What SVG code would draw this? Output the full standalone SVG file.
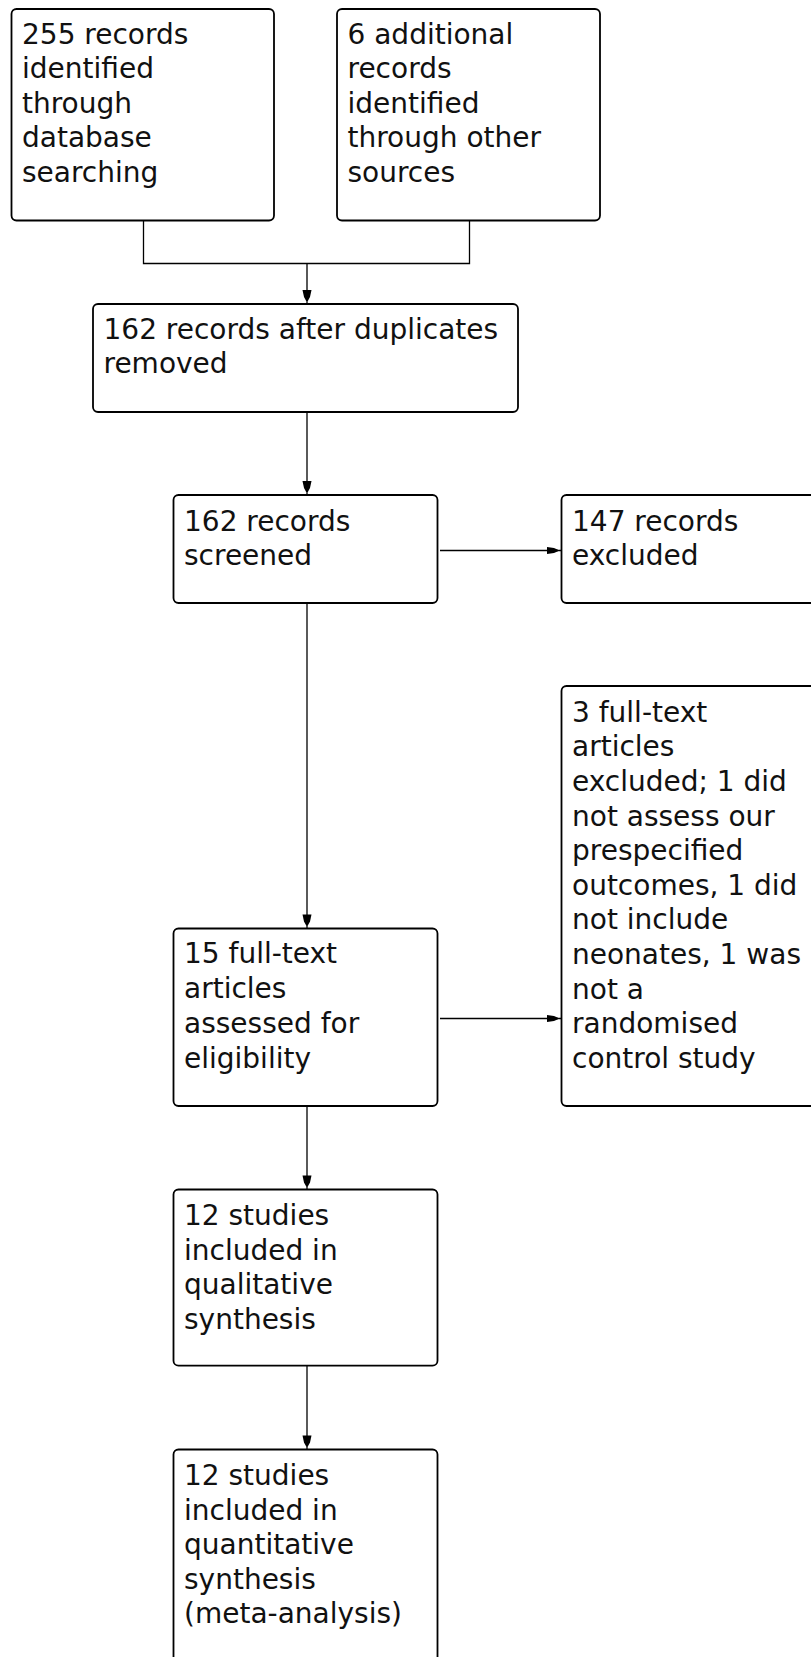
<svg xmlns="http://www.w3.org/2000/svg" width="811" height="1657" viewBox="0 0 811 1657">
<style>
.box{fill:#fff;stroke:#000;stroke-width:1.8}
.lbl{font-family:"DejaVu Sans",sans-serif;font-size:28px;fill:#111}
.con{fill:none;stroke:#000;stroke-width:1.3}
.ah{fill:#000}
</style>
<defs>
<polygon id="ahd" class="ah" points="-4.5,-14 4.5,-14 3,-7 0.8,-3 -0.8,-3 -3,-7"/>
<polygon id="ahr" class="ah" points="-14,-3.5 -14,3.5 -7,2.5 -3,0.8 -3,-0.8 -7,-2.5"/>
</defs>
<rect width="811" height="1657" fill="#fff"/>
<g id="connectors">
<path class="con" d="M143.5,220.5 V263.5 H469.5 V220.5 M307,263.5 V304"/>
<use href="#ahd" x="307" y="304"/>
<path class="con" d="M307,412 V495"/>
<use href="#ahd" x="307" y="495"/>
<path class="con" d="M440,550.5 H561"/>
<use href="#ahr" x="561" y="550.5"/>
<path class="con" d="M307,603 V928.5"/>
<use href="#ahd" x="307" y="928.5"/>
<path class="con" d="M440,1018.5 H561"/>
<use href="#ahr" x="561" y="1018.5"/>
<path class="con" d="M307,1106 V1189.5"/>
<use href="#ahd" x="307" y="1189.5"/>
<path class="con" d="M307,1365.7 V1449.5"/>
<use href="#ahd" x="307" y="1449.5"/>
</g>
<g id="n1">
<rect class="box" x="11.5" y="9" width="262.5" height="211.5" rx="5"/>
<text class="lbl" x="22" y="43.5"><tspan x="22">255 records</tspan><tspan x="22" dy="34.6">identified</tspan><tspan x="22" dy="34.6">through</tspan><tspan x="22" dy="34.6">database</tspan><tspan x="22" dy="34.6">searching</tspan></text>
</g>
<g id="n2">
<rect class="box" x="337" y="9" width="263" height="211.5" rx="5"/>
<text class="lbl" x="347.5" y="43.5"><tspan x="347.5">6 additional</tspan><tspan x="347.5" dy="34.6">records</tspan><tspan x="347.5" dy="34.6">identified</tspan><tspan x="347.5" dy="34.6">through other</tspan><tspan x="347.5" dy="34.6">sources</tspan></text>
</g>
<g id="n3">
<rect class="box" x="93" y="304" width="425" height="108" rx="5"/>
<text class="lbl" x="103.5" y="339.3"><tspan x="103.5">162 records after duplicates</tspan><tspan x="103.5" dy="34">removed</tspan></text>
</g>
<g id="n4">
<rect class="box" x="173.5" y="495" width="264" height="108" rx="5"/>
<text class="lbl" x="184" y="531"><tspan x="184">162 records</tspan><tspan x="184" dy="34">screened</tspan></text>
</g>
<g id="n5">
<rect class="box" x="561.5" y="495" width="300" height="108" rx="5"/>
<text class="lbl" x="572" y="531"><tspan x="572">147 records</tspan><tspan x="572" dy="34">excluded</tspan></text>
</g>
<g id="n6">
<rect class="box" x="561.5" y="686" width="300" height="420" rx="5"/>
<text class="lbl" x="572" y="721.7"><tspan x="572">3 full-text</tspan><tspan x="572" dy="34.6">articles</tspan><tspan x="572" dy="34.6">excluded; 1 did</tspan><tspan x="572" dy="34.6">not assess our</tspan><tspan x="572" dy="34.6">prespecified</tspan><tspan x="572" dy="34.6">outcomes, 1 did</tspan><tspan x="572" dy="34.6">not include</tspan><tspan x="572" dy="34.6">neonates, 1 was</tspan><tspan x="572" dy="34.6">not a</tspan><tspan x="572" dy="34.6">randomised</tspan><tspan x="572" dy="34.6">control study</tspan></text>
</g>
<g id="n7">
<rect class="box" x="173.5" y="928.5" width="264" height="177.5" rx="5"/>
<text class="lbl" x="184" y="963.3"><tspan x="184">15 full-text</tspan><tspan x="184" dy="34.8">articles</tspan><tspan x="184" dy="34.8">assessed for</tspan><tspan x="184" dy="34.8">eligibility</tspan></text>
</g>
<g id="n8">
<rect class="box" x="173.5" y="1189.5" width="264" height="176.2" rx="5"/>
<text class="lbl" x="184" y="1225"><tspan x="184">12 studies</tspan><tspan x="184" dy="34.5">included in</tspan><tspan x="184" dy="34.5">qualitative</tspan><tspan x="184" dy="34.5">synthesis</tspan></text>
</g>
<g id="n9">
<rect class="box" x="173.5" y="1449.5" width="264" height="300" rx="5"/>
<text class="lbl" x="184" y="1485"><tspan x="184">12 studies</tspan><tspan x="184" dy="34.6">included in</tspan><tspan x="184" dy="34.6">quantitative</tspan><tspan x="184" dy="34.6">synthesis</tspan><tspan x="184" dy="34.6">(meta-analysis)</tspan></text>
</g>
</svg>
